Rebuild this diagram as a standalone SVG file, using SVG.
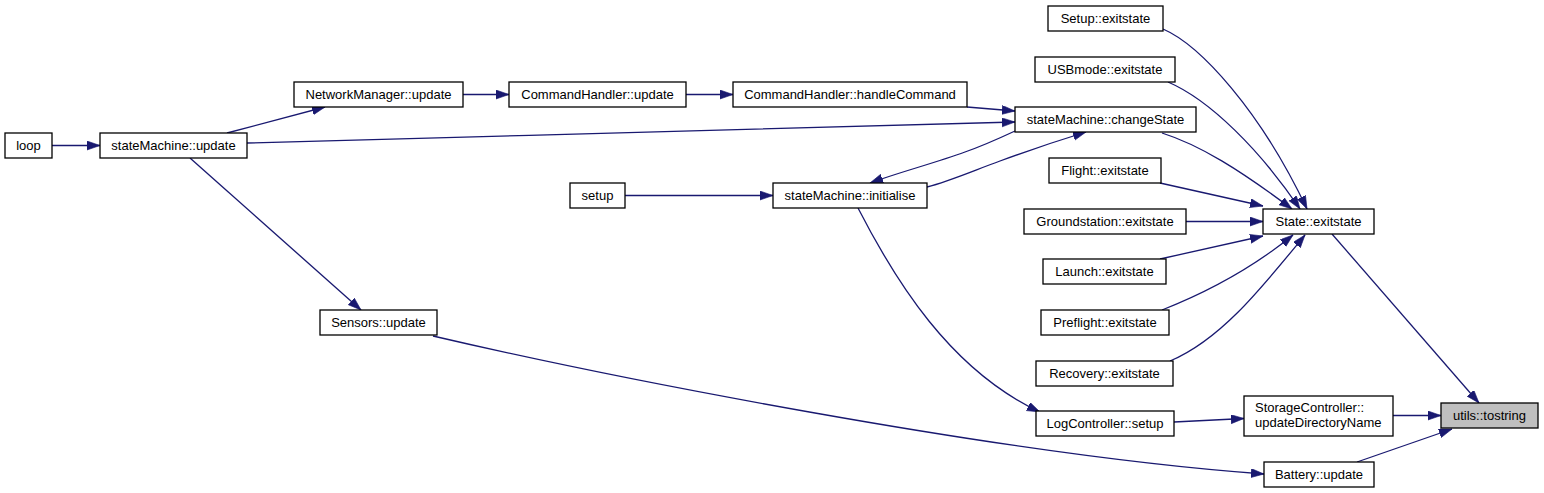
<svg xmlns="http://www.w3.org/2000/svg" width="1544" height="493" viewBox="0 0 1544 493">
<defs>
<marker id="ah" markerUnits="userSpaceOnUse" markerWidth="14" markerHeight="10" refX="13" refY="4.5" orient="auto">
<path d="M0,0 L13,4.5 L0,9 Z" fill="#191970" stroke="#191970" stroke-width="0.6"/>
</marker>
<style>
.n rect{fill:#ffffff;stroke:#000000;stroke-width:1.3}
.n text{font-family:"Liberation Sans",Arial,Helvetica,sans-serif;font-size:13px;fill:#000000;text-anchor:middle}
.root rect{fill:#bfbfbf}
#edges path{fill:none;stroke:#191970;stroke-width:1.3;marker-end:url(#ah)}
</style>
</defs>
<rect width="1544" height="493" fill="#ffffff"/>
<g id="edges">
<path d="M52,145.5 L100,145.5"/>
<path d="M227,133 L325,107"/>
<path d="M463,94.5 L509,94.5"/>
<path d="M686,94.5 L733,94.5"/>
<path d="M967,107 L1015,111"/>
<path d="M247,143 C500,136 800,128 1015,122"/>
<path d="M625,195.5 L773,195.5"/>
<path d="M1015,131 C1000,138 985,145 965,152 C935,163 900,172 870,183"/>
<path d="M927,187 C950,181 975,170 1000,161 C1030,150 1060,140 1086,132"/>
<path d="M190,158 L361,310"/>
<path d="M858,208 C895,280 950,370 1040,412"/>
<path d="M433,336 C600,375 1000,455 1264,474"/>
<path d="M1174,422 L1244,418.5"/>
<path d="M1393,415.5 L1441,415.5"/>
<path d="M1357,462 L1452,429"/>
<path d="M1332,234 L1479,403"/>
<path d="M1163,29 C1200,45 1260,110 1307,209"/>
<path d="M1168,82 C1210,100 1260,150 1300,209"/>
<path d="M1162,133 C1200,145 1240,170 1292,209"/>
<path d="M1160,183 L1263,206"/>
<path d="M1186,221.5 L1263,221.5"/>
<path d="M1160,259 L1263,236"/>
<path d="M1162,310 C1200,295 1250,270 1293,235"/>
<path d="M1170,361 C1220,340 1260,290 1305,235"/>
</g>
<g id="n_loop" class="n"><rect x="5" y="133" width="47" height="25"/><text x="28.5" y="150">loop</text></g>
<g id="n_sm_update" class="n"><rect x="100" y="133" width="147" height="25"/><text x="173.5" y="150">stateMachine::update</text></g>
<g id="n_nm_update" class="n"><rect x="294" y="82" width="169" height="25"/><text x="378.5" y="99">NetworkManager::update</text></g>
<g id="n_ch_update" class="n"><rect x="509" y="82" width="177" height="25"/><text x="597.5" y="99">CommandHandler::update</text></g>
<g id="n_ch_handle" class="n"><rect x="733" y="82" width="234" height="25"/><text x="850" y="99">CommandHandler::handleCommand</text></g>
<g id="n_sm_change" class="n"><rect x="1015" y="107" width="181" height="25"/><text x="1105.5" y="124">stateMachine::changeState</text></g>
<g id="n_setup_exit" class="n"><rect x="1048" y="6" width="115" height="25"/><text x="1105.5" y="23">Setup::exitstate</text></g>
<g id="n_usb_exit" class="n"><rect x="1035" y="57" width="140" height="25"/><text x="1105" y="74">USBmode::exitstate</text></g>
<g id="n_flight_exit" class="n"><rect x="1049" y="158" width="112" height="25"/><text x="1105" y="175">Flight::exitstate</text></g>
<g id="n_ground_exit" class="n"><rect x="1024" y="209" width="162" height="25"/><text x="1105" y="226">Groundstation::exitstate</text></g>
<g id="n_state_exit" class="n"><rect x="1263" y="209" width="111" height="25"/><text x="1318.5" y="226">State::exitstate</text></g>
<g id="n_launch_exit" class="n"><rect x="1043" y="259" width="123" height="25"/><text x="1104.5" y="276">Launch::exitstate</text></g>
<g id="n_preflight_exit" class="n"><rect x="1041" y="310" width="128" height="25"/><text x="1105" y="327">Preflight::exitstate</text></g>
<g id="n_recovery_exit" class="n"><rect x="1036" y="361" width="137" height="25"/><text x="1104.5" y="378">Recovery::exitstate</text></g>
<g id="n_setup" class="n"><rect x="570" y="183" width="55" height="25"/><text x="597.5" y="200">setup</text></g>
<g id="n_sm_init" class="n"><rect x="773" y="183" width="154" height="25"/><text x="850" y="200">stateMachine::initialise</text></g>
<g id="n_sensors" class="n"><rect x="320" y="310" width="117" height="25"/><text x="378.5" y="327">Sensors::update</text></g>
<g id="n_log_setup" class="n"><rect x="1036" y="411" width="138" height="25"/><text x="1105" y="428">LogController::setup</text></g>
<g id="n_storage" class="n"><rect x="1244" y="396" width="149" height="40"/><text x="1255" y="412" style="text-anchor:start">StorageController::</text><text x="1255" y="427" style="text-anchor:start">updateDirectoryName</text></g>
<g id="n_battery" class="n"><rect x="1264" y="462" width="110" height="25"/><text x="1319" y="479">Battery::update</text></g>
<g id="n_tostring" class="n root"><rect x="1441" y="403" width="97" height="25"/><text x="1489.5" y="420">utils::tostring</text></g>
</svg>
